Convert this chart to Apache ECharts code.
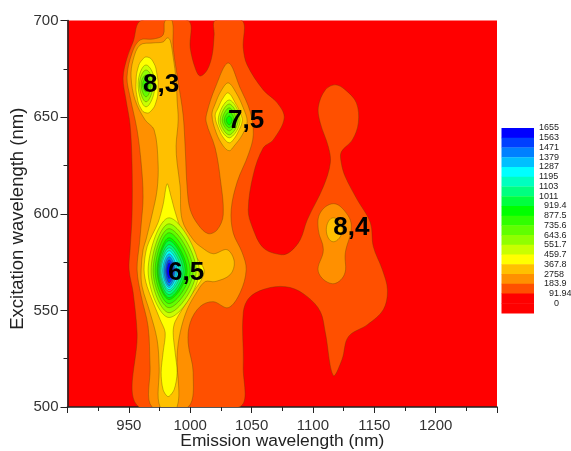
<!DOCTYPE html>
<html><head><meta charset="utf-8">
<style>html,body{margin:0;padding:0;background:#fff}#c{width:571px;height:451px}</style>
<script src="https://cdn.jsdelivr.net/npm/echarts@6/dist/echarts.min.js"></script>
</head><body><div id="c"></div>
<script>
// legend, top to bottom
const legendLabels = ['1655','1563','1471','1379','1287','1195','1103','1011','919.4','877.5','735.6','643.6','551.7','459.7','367.8','2758','183.9','91.94','0'];
const legendColors = ['#0000ff','#0040ff','#0080ff','#00bfff','#00ffff','#00ffbf','#00ff80','#00ff40','#00ff00','#30ff00','#60ff00','#90ff00','#c8ff00','#ffff00','#ffc000','#ff9000','#ff5000','#ff0000','#ff0000'];
const xTicks = [950,1000,1050,1100,1150,1200];
const yTicks = [500,550,600,650,700];
const peaks = [[976.3,666.7,'8,3'],[1045.6,648.1,'7,5'],[996.7,569.5,'6,5'],[1131.3,592.8,'8,4']];

// contour outlines: [emission nm, excitation nm]
const above92 = [[960,700],[953.5,689],[948.5,680.6],[945.3,670.3],[947.7,658.9],[951,646],[952.6,625.3],[952.6,599.5],[951,581.4],[950.2,571],[953.5,559.2],[956.7,538.5],[958.3,500],[1040,500],[1043.2,521],[1043.2,548.8],[1048.9,557.1],[1065.2,561.8],[1081.6,561.8],[1095.4,557.1],[1106,549.4],[1110.1,538.5],[1116.6,516.3],[1123.7,524.6],[1128.9,536.4],[1144.4,542.6],[1157.4,550.4],[1160.7,560.7],[1156.6,571],[1149.2,583],[1146.8,595.4],[1136.2,607.2],[1126.4,619.1],[1123.1,626.4],[1123.1,632],[1132.1,638.2],[1137,647],[1135.4,657.4],[1126.4,664.1],[1118.2,666.7],[1110.1,664.1],[1104.4,655.3],[1106,647],[1112.6,634.6],[1114.2,626.4],[1108.5,614],[1095.4,596.9],[1089.7,586.6],[1081.6,580.4],[1074.2,578.8],[1059.5,582.4],[1050.5,593.3],[1047.3,602.1],[1051.4,620.2],[1059.5,634.1],[1067.6,638.2],[1076.6,649.6],[1070.9,657.4],[1059.5,664.1],[1046.4,677],[1043.2,685.8],[1042.4,700],[1020.3,700],[1019.5,692.5],[1017.9,682.2],[1013.8,674.4],[1008,671.3],[1004,675.5],[1000,685.8],[998.3,700]];
const above184Main = [[979.5,700],[977.9,692.5],[969.8,690.4],[959.1,689.9],[952.6,683.2],[948.5,670.8],[951,660.5],[956.7,643.4],[960,626.4],[961.6,608.8],[960,594.3],[958.7,585],[956.7,571],[960,557.6],[965.7,541.6],[967.3,521],[968.9,500],[998.3,500],[1002.4,517.8],[998.3,533.3],[1000,543.7],[1008.1,552],[1018.7,554.5],[1031,551.4],[1040.7,559.2],[1045.6,571],[1042.4,579.8],[1035,590.2],[1033.4,602.1],[1038.3,616.5],[1047.3,630.5],[1051.4,640.8],[1048.9,652.7],[1040.7,665.1],[1031,678],[1020.3,665.1],[1013.8,652.7],[1013,647.6],[1020.3,634.1],[1024.4,618.6],[1026.9,599.5],[1022,591.7],[1014.6,589.7],[1006.5,594.3],[1000,602.1],[997.5,613.4],[995.9,634.1],[994.2,651.2],[990.2,668.2],[986.1,685.8],[985.3,700]];
const above184Right = [[1116.6,605.2],[1126.4,601],[1131.3,593.3],[1126.4,579.8],[1125.6,568.5],[1115.8,563.8],[1104.4,570],[1108.5,581.4],[1104.4,591.7],[1106,600.5]];
const above276Main = [[983.6,689.9],[986.1,681.1],[988.5,669.3],[989.3,658.9],[990.2,648.6],[988.5,635.1],[989.3,626.4],[991.8,614],[993.4,596.9],[1002.4,586.6],[1009.7,582.4],[1018.7,579.3],[1030.1,581.4],[1035.9,575.2],[1032.6,568.5],[1020.3,564.9],[1012.2,564.9],[1005.6,559.7],[997.5,550.4],[991.8,538.5],[989.3,526.1],[989.3,500],[975.5,500],[974.7,521],[973,534.9],[967.3,548.8],[960.8,562.3],[960,571],[961.6,581.4],[964,586.6],[968.9,599.5],[973,612.4],[973.8,626.4],[970.6,643.4],[963.2,648.6],[955.1,658.9],[951.8,670.8],[953.5,679.6],[959.1,687.3],[969.8,688.4],[977.9,688.9],[981.2,691]];
const above276Mid = [[1031,667.7],[1037.5,662.5],[1043.2,654.8],[1046.4,647.6],[1042.4,640.8],[1035.8,635.1],[1031.8,632.6],[1026.9,635.1],[1021.2,641.9],[1017.7,651.2],[1020.3,656.8],[1025.2,663.6]];
const above276Right = [[1110.9,591.7],[1116.6,597.9],[1124,591.7],[1116.6,585.5]];
const above368Main = [[981.2,615.5],[984.4,608.8],[987.7,601],[993.4,590.2],[1002.4,579.8],[1011.4,570],[1000,557.1],[987.7,544.2],[986.1,538.5],[987.7,528.2],[989.3,517.8],[986.9,509],[982,505.4],[977.9,509],[976.3,517.8],[977.9,528.2],[979.6,538.5],[975.5,545.2],[964.9,562.3],[962.4,571],[964.9,583],[973.8,595.4],[977.9,604.7]];
const above368Mid = [[1031,662.5],[1036.7,657.4],[1040.7,652.2],[1042.4,648.1],[1039.1,642.4],[1035,638.2],[1031.8,636.7],[1027.7,638.8],[1023.6,643.4],[1020.3,650.6],[1022.8,654.8],[1026.9,660]];
const above368Left = [[964.9,681.1],[969.8,678.6],[973,671.8],[973.8,665.1],[972.2,657.9],[968.1,653.2],[964.1,652.2],[960,654.3],[956.7,660.5],[955.9,668.2],[957.5,675.5],[960.8,679.6]];

// inner rings around each peak
const ringColors = ['#c8ff00','#90ff00','#60ff00','#30ff00','#00ff00','#00ff40','#00ff80','#00ffbf','#00ffff','#00bfff','#0080ff','#0040ff','#0000ff'];
const rings65Left = [965.7,968.1,969.8,971.4,973,973.8,974.7,975.5,976.3,977.5,978.7,980,980.8];
const rings65Right = [1007.3,1004.9,1002.4,1000,997.5,995.9,994.2,992.6,991,989.3,987.7,986.9,985.3];
const rings65Top = [597.9,594.8,592.3,590.2,587.6,586.1,584,582.4,580.9,579.3,577.8,576.2,574.7];
const rings65Bottom = [546.3,548.8,551.4,553.5,555.6,556.6,558.1,559.7,560.7,561.8,562.8,564.3,566.4];
const centre65 = [982.8,570.5];
const rings75Left = [1022.8,1024.4,1026.1,1027.7,1029.3];
const rings75Right = [1040.7,1039.1,1037.5,1035.8,1034.2];
const rings75Top = [658.9,656.8,654.8,652.7,650.6];
const rings75Bottom = [639.3,640.8,642.9,644.5,646];
const centre75 = [1031.8,648.4];
const rings83Left = [957.5,958.7,960,961.2,962.4];
const rings83Right = [971.4,969.8,968.1,966.5,965.7];
const rings83Top = [677,674.4,671.8,669.8,667];
const rings83Bottom = [655.3,657.9,660.5,663.1,664.5];
const centre83 = [964,667];

const shapes = [];
const add = (pts, color, smooth) => shapes.push({pts, color, smooth});
add(above92,'#ff5000',.35);
add(above184Main,'#ff9000',.35); add(above184Right,'#ff9000',.4);
add(above276Main,'#ffc000',.35); add(above276Mid,'#ffc000',.35); add(above276Right,'#ffc000',.5);
add(above368Main,'#ffff00',.3); add(above368Mid,'#ffff00',.4); add(above368Left,'#ffff00',.5);
const addRings = (L,R,T,B,C,s) => L.forEach((v,i) => add([[v,C[1]],[C[0],T[i]],[R[i],C[1]],[C[0],B[i]]], ringColors[i], s));
addRings(rings65Left,rings65Right,rings65Top,rings65Bottom,centre65,.38);
addRings(rings75Left,rings75Right,rings75Top,rings75Bottom,centre75,.38);
addRings(rings83Left,rings83Right,rings83Top,rings83Bottom,centre83,.45);

const font = '"Liberation Sans", Arial, sans-serif';
const chart = echarts.init(document.getElementById('c'), null, {renderer:'canvas'});
const axisLine = {show:true, lineStyle:{color:'#222', width:1.6}};
const n = legendLabels.length;
chart.setOption({
  animation:false,
  backgroundColor:'#fff',
  grid:[
    {left:67.5, top:20.5, width:429.5, height:386.5, show:true, backgroundColor:'#ff0000', borderWidth:0, outerBoundsMode:'none', containLabel:false},
    {left:501.5, top:128, width:32.5, height:185, show:false, outerBoundsMode:'none'}
  ],
  xAxis:[
    {gridIndex:0, type:'value', min:900, max:1250, interval:50, position:'bottom',
     name:'Emission wavelength (nm)', nameLocation:'middle', nameGap:26, nameMoveOverlap:false,
     nameTextStyle:{fontFamily:font, fontSize:17.4, color:'#222'},
     axisLine, axisTick:{show:true, length:6, lineStyle:{color:'#222', width:1}},
     minorTick:{show:true, splitNumber:2, length:4, lineStyle:{color:'#222', width:1}},
     splitLine:{show:false},
     axisLabel:{fontFamily:font, fontSize:15, color:'#333', margin:11,
       formatter:v => xTicks.includes(v) ? String(v) : ''}},
    {gridIndex:1, type:'value', min:0, max:1, show:false}
  ],
  yAxis:[
    {gridIndex:0, type:'value', min:500, max:700, interval:50,
     name:'Excitation wavelength (nm)', nameLocation:'middle', nameGap:40, nameMoveOverlap:false,
     nameTextStyle:{fontFamily:font, fontSize:18.5, color:'#222', padding:[0,10,0,0]},
     axisLine, axisTick:{show:true, length:7, lineStyle:{color:'#222', width:1}},
     minorTick:{show:true, splitNumber:2, length:4, lineStyle:{color:'#222', width:1}},
     splitLine:{show:false},
     axisLabel:{fontFamily:font, fontSize:15, color:'#333', margin:9,
       formatter:v => yTicks.includes(v) ? String(v) : ''}},
    {gridIndex:1, type:'value', min:0, max:n, show:false, inverse:true}
  ],
  series:[
    {type:'custom', xAxisIndex:0, yAxisIndex:0, clip:true, silent:true, z:2,
     data:shapes.map((s,i)=>[i]), encode:{x:0},
     renderItem:(p,api)=>{
       const s = shapes[api.value(0)];
       return {type:'polygon', shape:{points:s.pts.map(q=>api.coord(q)), smooth:s.smooth},
         style:{fill:s.color, stroke:'rgba(90,70,0,0.5)', lineWidth:.7}};
     }},
    {type:'scatter', xAxisIndex:0, yAxisIndex:0, z:5, silent:true, symbolSize:1, itemStyle:{opacity:0},
     data:peaks.map(p=>({value:[p[0],p[1]], name:p[2]})),
     label:{show:true, position:'inside', opacity:1, formatter:d=>d.name, fontFamily:font, fontWeight:'bold', fontSize:26, color:'#000', textBorderWidth:0}},
    {type:'custom', xAxisIndex:1, yAxisIndex:1, clip:false, silent:true, z:3,
     data:legendLabels.map((l,i)=>[i]), encode:{x:0},
     renderItem:(p,api)=>{
       const i = api.value(0);
       const a = api.coord([0,i]), b = api.coord([1,i+1]);
       const indent = i===18 ? 15 : i===17 ? 10 : i>=8 ? 5 : 0;
       return {type:'group', children:[
         {type:'rect', shape:{x:a[0], y:a[1], width:b[0]-a[0], height:b[1]-a[1]+.4}, style:{fill:legendColors[i]}},
         {type:'text', style:{x:b[0]+5+indent, y:a[1], text:legendLabels[i], fill:'#222', font:'9px '+font, verticalAlign:'middle'}}
       ]};
     }}
  ]
});
</script></body></html>
